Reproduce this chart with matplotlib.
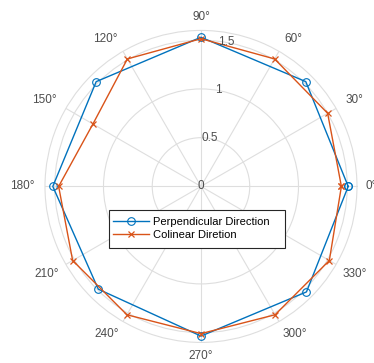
import numpy as np
from matplotlib import pyplot as plt
from matplotlib.patches import Rectangle

plt.rcParams["font.family"] = ["Liberation Sans", "DejaVu Sans"]

# measured radii (same units on both series)
perp_deg = [0, 45, 90, 135, 180, 225, 270, 315, 360]
perp_r = [1.51, 1.52, 1.53, 1.52, 1.52, 1.49, 1.535, 1.53, 1.51]

colin_deg = [0, 30, 60, 90, 120, 150, 180, 210, 240, 270, 300, 330, 360]
colin_r = [1.44, 1.50, 1.51, 1.515, 1.51, 1.28, 1.46, 1.52, 1.52, 1.51, 1.52, 1.52, 1.44]

r_ticks = [0, 0.5, 1, 1.5]
r_labels = ["0", "0.5", "1", "1.5"]
theta_ticks = list(range(0, 360, 30))
r_max = 1.6

blue = "#0072BD"
orange = "#D95319"
txt = "#4D4D4D"
grid = "#DEDEDE"

fig = plt.figure(figsize=(3.74, 3.63), dpi=100)
ax = fig.add_axes([0.1203, 0.0567, 0.8342, 0.8595], projection="polar")

ax.plot(np.deg2rad(perp_deg), perp_r, color=blue, lw=1.0, marker="o",
        ms=5.5, mfc="none", mew=0.8, label="Perpendicular Direction")
ax.plot(np.deg2rad(colin_deg), colin_r, color=orange, lw=1.0, marker="x",
        ms=4.5, mew=0.9, label="Colinear Diretion")

ax.set_ylim(0, r_max)
ax.set_yticks(r_ticks)
ax.set_yticklabels([])
# radial labels sit centred on the 80 degree ray
for r, lab in zip(r_ticks, r_labels):
    ax.text(np.deg2rad(80), r, lab, ha="center", va="center",
            fontsize=8.5, color=txt)

# angle labels anchored by their inner edge, just outside the rim
ax.set_xticks(np.deg2rad(theta_ticks))
ax.set_xticklabels([])
for a in theta_ticks:
    c, s = np.cos(np.deg2rad(a)), np.sin(np.deg2rad(a))
    ha = "left" if c > 0.1 else ("right" if c < -0.1 else "center")
    if s > 0.1:
        va, rr = "baseline", 1.712
    elif s < -0.1:
        va, rr = "top", 1.68
    else:
        va, rr = "center", 1.69 if c > 0 else 1.712
    ax.text(np.deg2rad(a), rr, f"{a}\u00b0", ha=ha, va=va, fontsize=8.5,
            color=txt, clip_on=False)

ax.grid(color=grid, lw=0.8)
ax.spines["polar"].set_color(grid)
ax.spines["polar"].set_linewidth(0.8)

# legend box drawn separately so its padding can be uneven
W, H = 374, 363
box = Rectangle((109.3 / W, 1 - 247.7 / H), (285 - 109.3) / W, 37.7 / H,
                transform=fig.transFigure, facecolor="white",
                edgecolor="#262626", lw=0.8, zorder=4.5, clip_on=False)
ax.add_artist(box)
leg = ax.legend(loc="upper left", bbox_to_anchor=(112.7 / W, 1 - 217 / H),
                bbox_transform=fig.transFigure, fontsize=8, frameon=False,
                handlelength=3.3, handletextpad=0.3, borderpad=0,
                labelspacing=0.3, borderaxespad=0)
leg.set_zorder(5)
for t in leg.get_texts():
    t.set_color("#000000")

fig.savefig("out.png", dpi=100)
